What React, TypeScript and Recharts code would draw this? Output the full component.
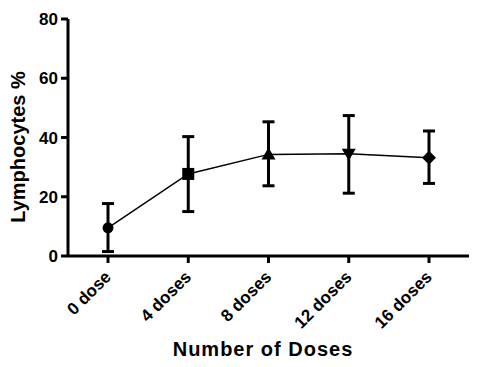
import React from 'react';
import { LineChart, Line, XAxis, YAxis, ErrorBar } from 'recharts';

// Werte
const doses = ['0 dose', '4 doses', '8 doses', '12 doses', '16 doses'];
const lymphocytes = [9.5, 27.7, 34.3, 34.5, 33.2];
const errLow = [8.0, 12.7, 10.6, 13.3, 8.7];
const errHigh = [8.2, 12.6, 11.0, 12.9, 9.0];
const yTicks = [0, 20, 40, 60, 80];

const markerShapes = ['circle', 'square', 'triangle', 'triangleDown', 'diamond'];

const data = doses.map((d, i) => ({
  dose: d,
  value: lymphocytes[i],
  err: [errLow[i], errHigh[i]],
}));

const font = 'Arial, "Liberation Sans", sans-serif';

function Marker(props: any) {
  const { cx, cy, index } = props;
  if (cx == null || cy == null) return null;
  const shape = markerShapes[index];
  if (shape === 'circle') return <circle key={index} cx={cx} cy={cy} r={5.5} fill="#000" />;
  if (shape === 'square') return <rect key={index} x={cx - 6} y={cy - 6} width={12} height={12} fill="#000" />;
  if (shape === 'triangle')
    return <polygon key={index} points={`${cx},${cy - 7} ${cx + 7},${cy + 5} ${cx - 7},${cy + 5}`} fill="#000" />;
  if (shape === 'triangleDown')
    return <polygon key={index} points={`${cx},${cy + 7} ${cx + 7},${cy - 5} ${cx - 7},${cy - 5}`} fill="#000" />;
  return <polygon key={index} points={`${cx},${cy - 7} ${cx + 7},${cy} ${cx},${cy + 7} ${cx - 7},${cy}`} fill="#000" />;
}

function DoseTick(props: any) {
  const { x, y, payload } = props;
  const ax = x + 4;
  const ay = y + 13;
  return (
    <text
      x={ax}
      y={ay}
      transform={`rotate(-45 ${ax} ${ay})`}
      textAnchor="end"
      fontFamily={font}
      fontWeight="bold"
      fontSize={17}
      fill="#000"
    >
      {payload.value}
    </text>
  );
}

export default function App() {
  return (
    <div style={{ position: 'absolute', left: 0, top: 0, width: 478, height: 367, background: '#fff' }}>
      <LineChart width={478} height={367} data={data} margin={{ top: 19, right: 9, left: 0, bottom: 0 }}>
        <XAxis
          dataKey="dose"
          padding={{ left: 40, right: 40 }}
          height={111}
          axisLine={{ stroke: '#000', strokeWidth: 3 }}
          tickLine={{ stroke: '#000', strokeWidth: 3 }}
          tickSize={7}
          tick={<DoseTick />}
          interval={0}
          label={{
            content: () => (
              <text x={263} y={356} textAnchor="middle" fontFamily={font} fontWeight="bold" fontSize={20} letterSpacing={1} fill="#000">
                Number of Doses
              </text>
            ),
          }}
        />
        <YAxis
          width={68}
          domain={[0, 80]}
          ticks={yTicks}
          axisLine={{ stroke: '#000', strokeWidth: 3 }}
          tickLine={{ stroke: '#000', strokeWidth: 3 }}
          tickSize={7}
          tickMargin={3}
          tick={{ fill: '#000', fontFamily: font, fontWeight: 'bold', fontSize: 17 }}
          label={{
            content: () => (
              <text
                x={18}
                y={147}
                transform="rotate(-90 18 147)"
                textAnchor="middle"
                dominantBaseline="central"
                fontFamily={font}
                fontWeight="bold"
                fontSize={20}
                fill="#000"
              >
                Lymphocytes %
              </text>
            ),
          }}
        />
        <Line
          type="linear"
          dataKey="value"
          stroke="#000"
          strokeWidth={1.5}
          dot={<Marker />}
          activeDot={false}
          isAnimationActive={false}
        >
          <ErrorBar dataKey="err" direction="y" width={6} strokeWidth={3} stroke="#000" isAnimationActive={false} />
        </Line>
      </LineChart>
    </div>
  );
}
